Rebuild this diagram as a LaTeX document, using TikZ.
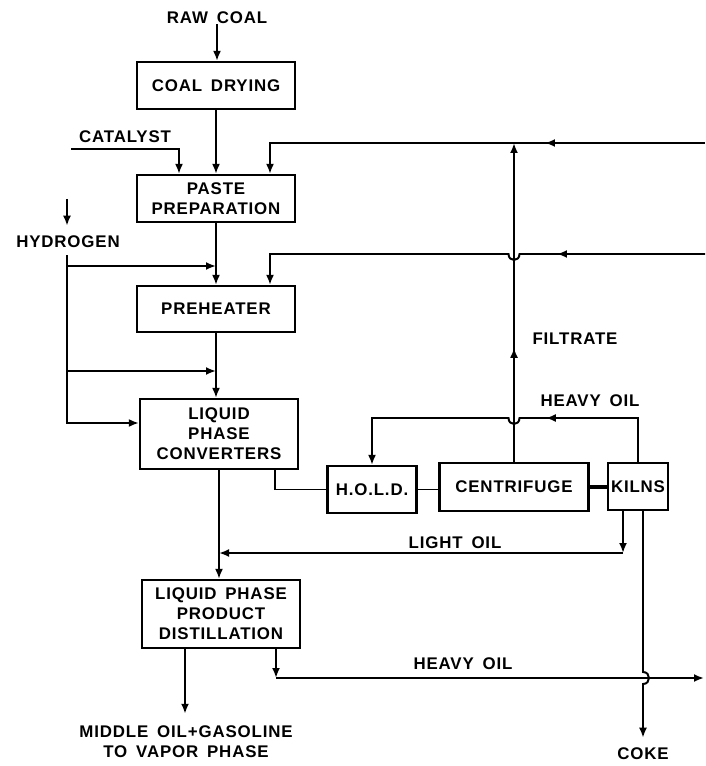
\documentclass[tikz,border=0pt]{standalone}
\usepackage{fontspec}
\newfontfamily\letterfont{Liberation Sans}[LetterSpace=5,WordSpace=1.6]
\usetikzlibrary{arrows.meta, calc, decorations.markings}

\begin{document}
\begin{tikzpicture}[
  x=0.025cm, y=-0.025cm,
  font=\letterfont\bfseries\fontsize{12}{14.2}\selectfont,
  box/.style={draw, line width=1.6pt, align=center, inner sep=0pt,
              minimum width=3.95cm, minimum height=1.175cm},
  tag/.style={align=center, inner sep=0pt},
  pipe/.style={line width=1.4pt},
  flow/.style={pipe, -{Latex[length=2.5mm, width=2mm]}},
  arrowat/.style={postaction={decorate}, decoration={markings,
      mark=at position #1 with {\arrow{Latex[length=2.5mm, width=2mm]}}}},
]
  \useasboundingbox (0,0) rectangle (705,766);

  % --- main train ---
  \node[tag] (raw) at (217,18) {RAW COAL};
  \node[box] (dry) at (216,85.5) {COAL DRYING};
  \node[tag] (cat) at (125,137) {CATALYST};
  \node[box] (paste) at (216,198.5) {PASTE\\PREPARATION};
  \node[tag] (h2) at (68,242) {HYDROGEN};
  \node[box, minimum height=1.15cm] (pre) at (216,309) {PREHEATER};
  \node[box, minimum height=1.75cm] (conv) at (219,434)
    {LIQUID\\PHASE\\CONVERTERS};
  \node[box, minimum height=1.7cm] (dist) at (221,614)
    {LIQUID PHASE\\PRODUCT\\DISTILLATION};
  \node[tag] (vap) at (186,742) {MIDDLE OIL+GASOLINE\\TO VAPOR PHASE};

  % --- residue treatment ---
  \node[box, minimum width=2.225cm] (hold) at (372,489.5) {H.O.L.D.};
  \node[box, minimum width=3.725cm, minimum height=1.2cm] (cent) at (514,487)
    {CENTRIFUGE};
  \node[box, minimum width=1.5cm] (kilns) at (638,486.5) {KILNS};
  \node[tag] (filt) at (575,339) {FILTRATE};
  \node[tag] (hvy1) at (590,401) {HEAVY OIL};
  \node[tag] (light) at (455,543) {LIGHT OIL};
  \node[tag] (hvy2) at (463,664) {HEAVY OIL};
  \node[tag] (coke) at (643,754) {COKE};

  \coordinate (catin) at (71,149);
  \coordinate (rec1) at (705,143);
  \coordinate (j1) at (270,143);
  \coordinate (rec2) at (705,254);
  \coordinate (j2) at (270,254);
  \coordinate (h2top) at (67,199);
  \coordinate (hb1) at (67,266);
  \coordinate (hb2) at (67,371);
  \coordinate (ho1) at (638,418);
  \coordinate (lo) at (623,553);
  \coordinate (ho2) at (276,678);
  \coordinate (hoout) at (704,678);
  \coordinate (dout) at (185,648);

  % --- feeds into the trunk ---
  \draw[flow] (raw) -- (raw |- dry.north);
  \draw[flow] (dry.south) -- (dry.south |- paste.north);
  \draw[flow] (catin) -| ($(paste.north)+(-37,0)$);
  \draw[flow] (paste.south) -- (paste.south |- pre.north);
  \draw[flow] (pre.south) -- (pre.south |- conv.north);
  \draw[flow] (conv.south) -- (conv.south |- dist.north);

  % --- hydrogen ---
  \draw[flow, shorten >=0.25cm] (h2top) -- (h2top |- h2.north);
  \draw[flow, shorten <=0.17cm] (h2.south -| h2top) |- ($(conv.west)+(0,-11)$);
  \draw[flow] (hb1) -- (hb1 -| paste.south);
  \draw[flow] (hb2) -- (hb2 -| pre.south);

  % --- recycle oils from the right ---
  \draw[flow, arrowat=4cm] (rec1) -- (j1) -- (j1 |- paste.north);
  \draw[flow, arrowat=3.7cm] (rec2) -- ($(cent.north |- rec2)+(5.5,0)$)
    .. controls +(0,8) and +(0,8) .. ($(cent.north |- rec2)+(-5.5,0)$)
    -- (j2) -- (j2 |- pre.north);

  % --- filtrate ---
  \draw[flow, arrowat=2.85cm] (cent.north) -- (cent.north |- rec1);

  % --- residue to H.O.L.D., centrifuge, kilns ---
  \draw[pipe] ($(conv.south east)+(-24,0)$) |- (hold.west);
  \draw[pipe] (hold.east) -- (hold.east -| cent.west);
  \draw[pipe, line width=2.4pt] (cent.east) -- (cent.east -| kilns.west);
  \draw[flow, arrowat=3.4cm] (kilns.north) -- (ho1)
    -- ($(cent.north |- ho1)+(5.5,0)$)
    .. controls +(0,8) and +(0,8) .. ($(cent.north |- ho1)+(-5.5,0)$)
    -- (ho1 -| hold.north) -- (hold.north);

  % --- light oil back to distillation ---
  \draw[flow] (kilns.south -| lo) -- (lo);
  \draw[flow] (lo) -- (lo -| conv.south);

  % --- products ---
  \draw[flow, shorten >=0.3cm] (dout) -- (dout |- vap.north);
  \draw[flow] (dist.south -| ho2) -- (ho2);
  \draw[flow] (ho2) -- (hoout);
  \draw[flow, shorten >=0.25cm] (kilns.south -| coke.north)
    -- ($(coke.north |- ho2)+(0,-6)$)
    .. controls +(8,0) and +(8,0) .. ($(coke.north |- ho2)+(0,6)$)
    -- (coke.north);
\end{tikzpicture}
\end{document}
